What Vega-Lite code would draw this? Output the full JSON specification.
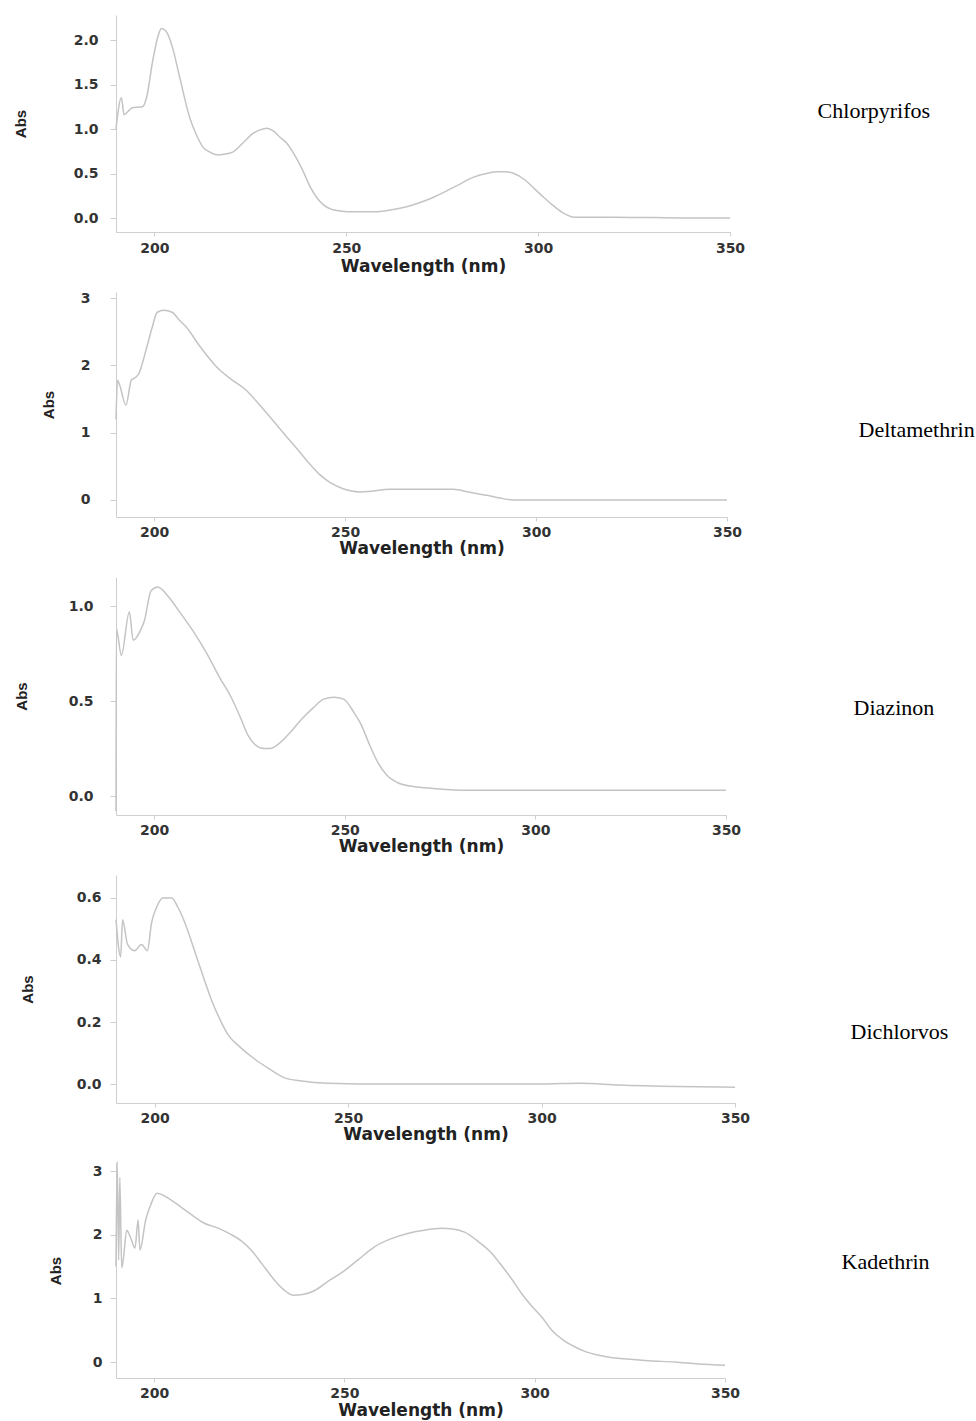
{
  "$schema": "https://vega.github.io/schema/vega-lite/v6.json",
  "background": "white",
  "padding": {"left": 13, "top": 15, "right": 5, "bottom": 3},
  "spacing": 60,
  "bounds": "flush",
  "config": {
    "view": {"stroke": null},
    "axis": {
      "grid": false,
      "domainColor": "#cfcfcf",
      "tickColor": "#cfcfcf",
      "labelFont": "DejaVu Sans",
      "labelFontWeight": "bold",
      "labelFontSize": 14,
      "labelColor": "#333333",
      "titleFont": "DejaVu Sans",
      "titleFontWeight": "bold",
      "titleColor": "#222222"
    },
    "axisX": {"titleFontSize": 17, "tickSize": 4, "labelPadding": 4, "titlePadding": 1, "labelFlush": false},
    "axisY": {"titleFont": "Liberation Sans", "titleFontSize": 15, "tickSize": 6, "labelFlush": false},
    "line": {"color": "#c4c4c4", "strokeWidth": 1.5, "interpolate": "monotone"}
  },
  "datasets": {
    "chlorpyrifos": [
      {"nm": 190.0, "abs": 1.00}, {"nm": 191.4, "abs": 1.35}, {"nm": 192.1, "abs": 1.16}, {"nm": 193.2, "abs": 1.20},
      {"nm": 194.2, "abs": 1.24}, {"nm": 196.9, "abs": 1.25}, {"nm": 198.0, "abs": 1.36}, {"nm": 199.5, "abs": 1.75},
      {"nm": 201.0, "abs": 2.05}, {"nm": 201.8, "abs": 2.13}, {"nm": 203.0, "abs": 2.10}, {"nm": 204.7, "abs": 1.92},
      {"nm": 206.5, "abs": 1.60}, {"nm": 209.2, "abs": 1.13}, {"nm": 211.0, "abs": 0.93}, {"nm": 212.6, "abs": 0.80},
      {"nm": 214.5, "abs": 0.74}, {"nm": 216.2, "abs": 0.71}, {"nm": 218.5, "abs": 0.72}, {"nm": 220.4, "abs": 0.74},
      {"nm": 223.0, "abs": 0.84}, {"nm": 225.7, "abs": 0.95}, {"nm": 227.5, "abs": 0.99}, {"nm": 229.3, "abs": 1.01},
      {"nm": 231.0, "abs": 0.98}, {"nm": 232.7, "abs": 0.91}, {"nm": 234.5, "abs": 0.84}, {"nm": 236.1, "abs": 0.74},
      {"nm": 238.5, "abs": 0.55}, {"nm": 240.6, "abs": 0.35}, {"nm": 242.5, "abs": 0.22}, {"nm": 244.0, "abs": 0.15},
      {"nm": 246.0, "abs": 0.10}, {"nm": 248.4, "abs": 0.08}, {"nm": 252.0, "abs": 0.07}, {"nm": 256.0, "abs": 0.07},
      {"nm": 260.0, "abs": 0.08}, {"nm": 264.0, "abs": 0.11}, {"nm": 267.5, "abs": 0.15}, {"nm": 272.0, "abs": 0.22},
      {"nm": 276.4, "abs": 0.31}, {"nm": 280.0, "abs": 0.39}, {"nm": 283.2, "abs": 0.46}, {"nm": 286.5, "abs": 0.50},
      {"nm": 289.5, "abs": 0.52}, {"nm": 291.5, "abs": 0.52}, {"nm": 293.7, "abs": 0.50}, {"nm": 296.5, "abs": 0.43},
      {"nm": 299.0, "abs": 0.33}, {"nm": 301.5, "abs": 0.23}, {"nm": 304.2, "abs": 0.13}, {"nm": 306.8, "abs": 0.05},
      {"nm": 309.4, "abs": 0.01}, {"nm": 315.0, "abs": 0.01}, {"nm": 320.0, "abs": 0.01}, {"nm": 330.0, "abs": 0.005},
      {"nm": 340.0, "abs": 0.0}, {"nm": 350.0, "abs": 0.0}
    ],
    "deltamethrin": [
      {"nm": 190.0, "abs": 1.20}, {"nm": 190.4, "abs": 1.78}, {"nm": 191.0, "abs": 1.70}, {"nm": 192.6, "abs": 1.41},
      {"nm": 194.0, "abs": 1.78}, {"nm": 195.3, "abs": 1.83}, {"nm": 196.0, "abs": 1.88}, {"nm": 196.9, "abs": 2.03},
      {"nm": 198.2, "abs": 2.30}, {"nm": 199.5, "abs": 2.57}, {"nm": 200.8, "abs": 2.79}, {"nm": 202.5, "abs": 2.82},
      {"nm": 204.7, "abs": 2.79}, {"nm": 206.5, "abs": 2.68}, {"nm": 208.4, "abs": 2.57}, {"nm": 212.0, "abs": 2.28},
      {"nm": 216.3, "abs": 1.98}, {"nm": 220.0, "abs": 1.80}, {"nm": 224.1, "abs": 1.63}, {"nm": 227.5, "abs": 1.42},
      {"nm": 231.0, "abs": 1.19}, {"nm": 234.5, "abs": 0.95}, {"nm": 238.0, "abs": 0.72}, {"nm": 240.5, "abs": 0.55},
      {"nm": 243.3, "abs": 0.38}, {"nm": 246.0, "abs": 0.26}, {"nm": 249.3, "abs": 0.17}, {"nm": 253.8, "abs": 0.12},
      {"nm": 257.0, "abs": 0.13}, {"nm": 261.7, "abs": 0.16}, {"nm": 270.0, "abs": 0.16}, {"nm": 278.2, "abs": 0.16},
      {"nm": 283.0, "abs": 0.11}, {"nm": 287.1, "abs": 0.07}, {"nm": 290.5, "abs": 0.03}, {"nm": 294.0, "abs": 0.0},
      {"nm": 300.0, "abs": 0.0}, {"nm": 320.0, "abs": 0.0}, {"nm": 350.0, "abs": 0.0}
    ],
    "diazinon": [
      {"nm": 190.0, "abs": -0.08}, {"nm": 190.1, "abs": 0.88}, {"nm": 191.4, "abs": 0.74}, {"nm": 193.5, "abs": 0.97},
      {"nm": 194.5, "abs": 0.82}, {"nm": 196.6, "abs": 0.88}, {"nm": 197.4, "abs": 0.92}, {"nm": 199.2, "abs": 1.08},
      {"nm": 201.0, "abs": 1.10}, {"nm": 203.7, "abs": 1.05}, {"nm": 207.0, "abs": 0.96}, {"nm": 210.5, "abs": 0.86},
      {"nm": 214.1, "abs": 0.74}, {"nm": 217.0, "abs": 0.63}, {"nm": 220.2, "abs": 0.52}, {"nm": 222.5, "abs": 0.42},
      {"nm": 224.6, "abs": 0.32}, {"nm": 226.5, "abs": 0.27}, {"nm": 228.8, "abs": 0.25}, {"nm": 230.5, "abs": 0.25},
      {"nm": 232.4, "abs": 0.27}, {"nm": 235.5, "abs": 0.33}, {"nm": 238.5, "abs": 0.40}, {"nm": 241.5, "abs": 0.46},
      {"nm": 244.5, "abs": 0.51}, {"nm": 247.1, "abs": 0.52}, {"nm": 249.7, "abs": 0.51}, {"nm": 252.4, "abs": 0.44},
      {"nm": 254.2, "abs": 0.38}, {"nm": 256.5, "abs": 0.27}, {"nm": 258.6, "abs": 0.18}, {"nm": 261.0, "abs": 0.11},
      {"nm": 263.9, "abs": 0.07}, {"nm": 268.0, "abs": 0.05}, {"nm": 273.3, "abs": 0.04}, {"nm": 282.2, "abs": 0.03},
      {"nm": 300.0, "abs": 0.03}, {"nm": 320.0, "abs": 0.03}, {"nm": 350.0, "abs": 0.03}
    ],
    "dichlorvos": [
      {"nm": 190.0, "abs": 0.53}, {"nm": 191.2, "abs": 0.41}, {"nm": 191.7, "abs": 0.53}, {"nm": 193.0, "abs": 0.45},
      {"nm": 194.8, "abs": 0.43}, {"nm": 196.6, "abs": 0.45}, {"nm": 198.1, "abs": 0.43}, {"nm": 199.2, "abs": 0.52},
      {"nm": 200.5, "abs": 0.57}, {"nm": 202.1, "abs": 0.60}, {"nm": 204.4, "abs": 0.60}, {"nm": 206.0, "abs": 0.57},
      {"nm": 207.8, "abs": 0.52}, {"nm": 209.5, "abs": 0.46}, {"nm": 211.1, "abs": 0.40}, {"nm": 213.0, "abs": 0.33},
      {"nm": 214.7, "abs": 0.27}, {"nm": 216.8, "abs": 0.21}, {"nm": 218.9, "abs": 0.16}, {"nm": 222.0, "abs": 0.12},
      {"nm": 225.9, "abs": 0.08}, {"nm": 229.5, "abs": 0.05}, {"nm": 233.6, "abs": 0.02}, {"nm": 238.0, "abs": 0.01},
      {"nm": 244.7, "abs": 0.003}, {"nm": 260.0, "abs": 0.0}, {"nm": 280.0, "abs": 0.0}, {"nm": 300.0, "abs": 0.0},
      {"nm": 310.0, "abs": 0.003}, {"nm": 320.0, "abs": -0.003}, {"nm": 335.0, "abs": -0.008}, {"nm": 350.0, "abs": -0.01}
    ],
    "kadethrin": [
      {"nm": 190.0, "abs": 1.50}, {"nm": 190.3, "abs": 3.15}, {"nm": 190.7, "abs": 1.60}, {"nm": 191.0, "abs": 2.90},
      {"nm": 191.5, "abs": 1.48}, {"nm": 192.0, "abs": 1.65}, {"nm": 192.8, "abs": 2.07}, {"nm": 193.8, "abs": 1.96},
      {"nm": 195.0, "abs": 1.79}, {"nm": 195.8, "abs": 2.23}, {"nm": 196.3, "abs": 1.76}, {"nm": 197.8, "abs": 2.23},
      {"nm": 199.0, "abs": 2.45}, {"nm": 200.8, "abs": 2.65}, {"nm": 203.0, "abs": 2.60}, {"nm": 205.3, "abs": 2.51},
      {"nm": 209.0, "abs": 2.35}, {"nm": 213.2, "abs": 2.18}, {"nm": 217.0, "abs": 2.10}, {"nm": 220.3, "abs": 2.00},
      {"nm": 223.0, "abs": 1.90}, {"nm": 225.5, "abs": 1.76}, {"nm": 228.5, "abs": 1.53}, {"nm": 231.6, "abs": 1.29},
      {"nm": 234.0, "abs": 1.14}, {"nm": 236.5, "abs": 1.05}, {"nm": 239.0, "abs": 1.06}, {"nm": 242.1, "abs": 1.12},
      {"nm": 245.5, "abs": 1.26}, {"nm": 249.2, "abs": 1.40}, {"nm": 253.5, "abs": 1.60}, {"nm": 257.9, "abs": 1.81},
      {"nm": 262.0, "abs": 1.93}, {"nm": 266.6, "abs": 2.02}, {"nm": 271.0, "abs": 2.07}, {"nm": 275.5, "abs": 2.10},
      {"nm": 278.5, "abs": 2.09}, {"nm": 281.6, "abs": 2.04}, {"nm": 285.0, "abs": 1.90}, {"nm": 288.7, "abs": 1.71},
      {"nm": 291.5, "abs": 1.50}, {"nm": 294.0, "abs": 1.30}, {"nm": 296.5, "abs": 1.08}, {"nm": 299.2, "abs": 0.88},
      {"nm": 301.8, "abs": 0.71}, {"nm": 304.5, "abs": 0.50}, {"nm": 307.9, "abs": 0.33}, {"nm": 310.5, "abs": 0.24},
      {"nm": 313.5, "abs": 0.16}, {"nm": 316.6, "abs": 0.11}, {"nm": 320.0, "abs": 0.07}, {"nm": 323.7, "abs": 0.05},
      {"nm": 330.0, "abs": 0.02}, {"nm": 336.8, "abs": 0.0}, {"nm": 343.0, "abs": -0.03}, {"nm": 350.0, "abs": -0.05}
    ]
  },
  "vconcat": [
    {
      "data": {"name": "chlorpyrifos"},
      "width": 614,
      "height": 217,
      "title": {"text": "Chlorpyrifos", "orient": "right", "angle": 0, "align": "right", "baseline": "middle", "anchor": "middle", "frame": "group", "offset": 73, "dy": -13, "font": "Liberation Serif", "fontSize": 22, "fontWeight": "normal", "color": "#000000"},
      "mark": {"type": "line"},
      "encoding": {
        "x": {"field": "nm", "type": "quantitative", "scale": {"domain": [190, 350], "nice": false, "zero": false}, "axis": {"values": [200, 250, 300, 350], "title": "Wavelength (nm)", "labelPadding": 5, "titlePadding": 3}},
        "y": {"field": "abs", "type": "quantitative", "scale": {"domain": [-0.157, 2.281], "nice": false, "zero": false}, "axis": {"values": [0, 0.5, 1, 1.5, 2], "format": ".1f", "title": "Abs", "labelPadding": 12, "titleX": -88}}
      }
    },
    {
      "data": {"name": "deltamethrin"},
      "width": 611,
      "height": 225,
      "title": {"text": "Deltamethrin", "orient": "right", "angle": 0, "align": "right", "baseline": "middle", "anchor": "middle", "frame": "group", "offset": 117, "dy": 25, "font": "Liberation Serif", "fontSize": 22, "fontWeight": "normal", "color": "#000000"},
      "mark": {"type": "line"},
      "encoding": {
        "x": {"field": "nm", "type": "quantitative", "scale": {"domain": [190, 350], "nice": false, "zero": false}, "axis": {"values": [200, 250, 300, 350], "title": "Wavelength (nm)"}},
        "y": {"field": "abs", "type": "quantitative", "scale": {"domain": [-0.253, 3.091], "nice": false, "zero": false}, "axis": {"values": [0, 1, 2, 3], "format": "d", "title": "Abs", "labelPadding": 20, "titleX": -60}}
      }
    },
    {
      "data": {"name": "diazinon"},
      "width": 610,
      "height": 238,
      "title": {"text": "Diazinon", "orient": "right", "angle": 0, "align": "right", "baseline": "middle", "anchor": "middle", "frame": "group", "offset": 113, "dy": 12, "font": "Liberation Serif", "fontSize": 22, "fontWeight": "normal", "color": "#000000"},
      "mark": {"type": "line"},
      "encoding": {
        "x": {"field": "nm", "type": "quantitative", "scale": {"domain": [190, 350], "nice": false, "zero": false}, "axis": {"values": [200, 250, 300, 350], "title": "Wavelength (nm)"}},
        "y": {"field": "abs", "type": "quantitative", "scale": {"domain": [-0.1, 1.153], "nice": false, "zero": false}, "axis": {"values": [0, 0.5, 1], "format": ".1f", "title": "Abs", "labelPadding": 17, "titleX": -87}}
      }
    },
    {
      "data": {"name": "dichlorvos"},
      "width": 619,
      "height": 228,
      "title": {"text": "Dichlorvos", "orient": "right", "angle": 0, "align": "right", "baseline": "middle", "anchor": "middle", "frame": "group", "offset": 101, "dy": 43, "font": "Liberation Serif", "fontSize": 22, "fontWeight": "normal", "color": "#000000"},
      "mark": {"type": "line"},
      "encoding": {
        "x": {"field": "nm", "type": "quantitative", "scale": {"domain": [190, 350], "nice": false, "zero": false}, "axis": {"values": [200, 250, 300, 350], "title": "Wavelength (nm)"}},
        "y": {"field": "abs", "type": "quantitative", "scale": {"domain": [-0.061, 0.674], "nice": false, "zero": false}, "axis": {"values": [0, 0.2, 0.4, 0.6], "format": ".1f", "title": "Abs", "labelPadding": 9, "titleX": -81}}
      }
    },
    {
      "data": {"name": "kadethrin"},
      "width": 609,
      "height": 215,
      "title": {"text": "Kadethrin", "orient": "right", "angle": 0, "align": "right", "baseline": "middle", "anchor": "middle", "frame": "group", "offset": 102, "dy": -9, "font": "Liberation Serif", "fontSize": 22, "fontWeight": "normal", "color": "#000000"},
      "mark": {"type": "line"},
      "encoding": {
        "x": {"field": "nm", "type": "quantitative", "scale": {"domain": [190, 350], "nice": false, "zero": false}, "axis": {"values": [200, 250, 300, 350], "title": "Wavelength (nm)", "titlePadding": 2}},
        "y": {"field": "abs", "type": "quantitative", "scale": {"domain": [-0.251, 3.126], "nice": false, "zero": false}, "axis": {"values": [0, 1, 2, 3], "format": "d", "title": "Abs", "labelPadding": 8, "titleX": -53}}
      }
    }
  ]
}
